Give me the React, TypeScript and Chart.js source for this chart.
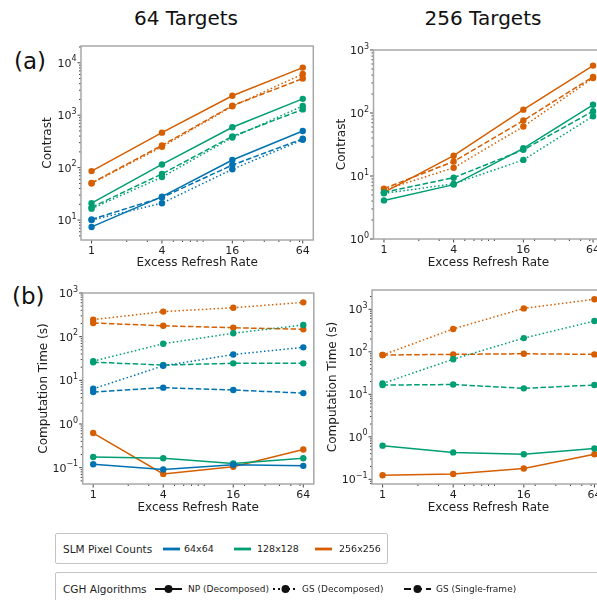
import React, { useEffect, useRef } from 'react';
import { Chart, registerables } from 'chart.js';

Chart.register(...registerables);

// ---------- data ----------
const excessRefreshRate = [1, 4, 16, 64];
const xTickValues = [1, 4, 16, 64];
const xMinorTickValues = [2, 3, 5, 6, 7, 8, 9, 20, 30, 40, 50, 60];

// (a) Contrast, 64 targets
const c64_64_np = [7.4, 28, 140, 500];
const c64_64_gsDec = [10, 21, 93, 340];
const c64_64_gsSf = [10.3, 27, 112, 355];
const c64_128_np = [21, 115, 590, 2050];
const c64_128_gsDec = [16.5, 66, 375, 1500];
const c64_128_gsSf = [17.5, 76, 395, 1290];
const c64_256_np = [86, 465, 2350, 8100];
const c64_256_gsDec = [50, 250, 1480, 6100];
const c64_256_gsSf = [51, 265, 1520, 5000];

// (a) Contrast, 256 targets
const c256_128_np = [4.1, 7.3, 27.5, 135];
const c256_128_gsDec = [5.3, 7.5, 18, 89];
const c256_128_gsSf = [5.5, 9.4, 26, 107];
const c256_256_np = [5.5, 21, 113, 565];
const c256_256_gsDec = [6.0, 13.5, 61, 360];
const c256_256_gsSf = [6.3, 17, 76, 375];

// (b) Computation time, 64 targets
const t64_64_np = [0.12, 0.091, 0.117, 0.11];
const t64_64_gsDec = [6.4, 21.5, 39, 57];
const t64_64_gsSf = [5.4, 6.8, 6.0, 5.1];
const t64_128_np = [0.176, 0.164, 0.125, 0.164];
const t64_128_gsDec = [27.5, 69, 120, 185];
const t64_128_gsSf = [26, 22.4, 24.5, 24.5];
const t64_256_np = [0.62, 0.072, 0.105, 0.26];
const t64_256_gsDec = [245, 375, 460, 610];
const t64_256_gsSf = [205, 178, 160, 148];

// (b) Computation time, 256 targets
const t256_128_np = [0.62, 0.43, 0.39, 0.53];
const t256_128_gsDec = [18, 67, 210, 530];
const t256_128_gsSf = [16.5, 17, 13.8, 16.5];
const t256_256_np = [0.125, 0.133, 0.18, 0.39];
const t256_256_gsDec = [84, 345, 1050, 1720];
const t256_256_gsSf = [84, 87, 90, 87];

const contrastTicks64 = [10, 100, 1000, 10000];
const contrastTicks256 = [1, 10, 100, 1000];
const timeTicks = [0.1, 1, 10, 100, 1000];

const resolutions = ['64x64', '128x128', '256x256'];
const algorithms = ['NP (Decomposed)', 'GS (Decomposed)', 'GS (Single-frame)'];

// ---------- styles ----------
const COLORS: Record<string, string> = {
  '64x64': '#0072B2',
  '128x128': '#009E73',
  '256x256': '#D55E00',
};
const DASHES: Record<string, number[]> = {
  'NP (Decomposed)': [],
  'GS (Decomposed)': [1.5, 2.4],
  'GS (Single-frame)': [5.5, 2.4],
};
const FONT = "'DejaVu Sans', 'Liberation Sans', sans-serif";
const TEXT = '#1e1e1e';

type Series = { res: string; alg: string; values: number[] };

const panelA64: Series[] = [
  { res: '64x64', alg: algorithms[0], values: c64_64_np },
  { res: '64x64', alg: algorithms[1], values: c64_64_gsDec },
  { res: '64x64', alg: algorithms[2], values: c64_64_gsSf },
  { res: '128x128', alg: algorithms[0], values: c64_128_np },
  { res: '128x128', alg: algorithms[1], values: c64_128_gsDec },
  { res: '128x128', alg: algorithms[2], values: c64_128_gsSf },
  { res: '256x256', alg: algorithms[0], values: c64_256_np },
  { res: '256x256', alg: algorithms[1], values: c64_256_gsDec },
  { res: '256x256', alg: algorithms[2], values: c64_256_gsSf },
];
const panelA256: Series[] = [
  { res: '128x128', alg: algorithms[0], values: c256_128_np },
  { res: '128x128', alg: algorithms[1], values: c256_128_gsDec },
  { res: '128x128', alg: algorithms[2], values: c256_128_gsSf },
  { res: '256x256', alg: algorithms[0], values: c256_256_np },
  { res: '256x256', alg: algorithms[1], values: c256_256_gsDec },
  { res: '256x256', alg: algorithms[2], values: c256_256_gsSf },
];
const panelB64: Series[] = [
  { res: '64x64', alg: algorithms[0], values: t64_64_np },
  { res: '64x64', alg: algorithms[1], values: t64_64_gsDec },
  { res: '64x64', alg: algorithms[2], values: t64_64_gsSf },
  { res: '128x128', alg: algorithms[0], values: t64_128_np },
  { res: '128x128', alg: algorithms[1], values: t64_128_gsDec },
  { res: '128x128', alg: algorithms[2], values: t64_128_gsSf },
  { res: '256x256', alg: algorithms[0], values: t64_256_np },
  { res: '256x256', alg: algorithms[1], values: t64_256_gsDec },
  { res: '256x256', alg: algorithms[2], values: t64_256_gsSf },
];
const panelB256: Series[] = [
  { res: '128x128', alg: algorithms[0], values: t256_128_np },
  { res: '128x128', alg: algorithms[1], values: t256_128_gsDec },
  { res: '128x128', alg: algorithms[2], values: t256_128_gsSf },
  { res: '256x256', alg: algorithms[0], values: t256_256_np },
  { res: '256x256', alg: algorithms[1], values: t256_256_gsDec },
  { res: '256x256', alg: algorithms[2], values: t256_256_gsSf },
];

const framePlugin = {
  id: 'mplFrame',
  afterDraw(chart: any) {
    const { ctx, chartArea: a, scales } = chart;
    const x = scales.x;
    const y = scales.y;
    const yTickList: number[] = chart.options.plugins.mplFrame.yTicks;
    ctx.save();
    ctx.strokeStyle = '#444';
    ctx.lineWidth = 1;
    const xTick = (v: number, len: number) => {
      const px = x.getPixelForValue(v);
      if (px < a.left - 0.5 || px > a.right + 0.5) return;
      ctx.beginPath();
      ctx.moveTo(px, a.bottom);
      ctx.lineTo(px, a.bottom + len);
      ctx.stroke();
    };
    const yTick = (v: number, len: number) => {
      const py = y.getPixelForValue(v);
      if (py < a.top - 0.5 || py > a.bottom + 0.5) return;
      ctx.beginPath();
      ctx.moveTo(a.left, py);
      ctx.lineTo(a.left - len, py);
      ctx.stroke();
    };
    xTickValues.forEach((v) => xTick(v, 3.5));
    xMinorTickValues.forEach((v) => xTick(v, 2));
    const e0 = Math.floor(Math.log10(y.min));
    const e1 = Math.ceil(Math.log10(y.max));
    for (let e = e0; e <= e1; e++) {
      yTick(Math.pow(10, e), 3.5);
      for (let k = 2; k <= 9; k++) yTick(k * Math.pow(10, e), 2);
    }
    // y tick labels as 10 with raised exponent
    ctx.fillStyle = TEXT;
    ctx.textBaseline = 'middle';
    ctx.textAlign = 'left';
    const right = a.left - 4.5;
    yTickList.forEach((v) => {
      const py = y.getPixelForValue(v);
      if (py < a.top - 1 || py > a.bottom + 1) return;
      const exp = String(Math.round(Math.log10(v))).replace('-', '\u2212');
      ctx.font = `8px ${FONT}`;
      const ew = ctx.measureText(exp).width;
      ctx.font = `11px ${FONT}`;
      const bw = ctx.measureText('10').width;
      ctx.fillText('10', right - ew - bw, py + 1);
      ctx.font = `8px ${FONT}`;
      ctx.fillText(exp, right - ew, py - 3.5);
    });
    ctx.strokeStyle = '#a8a8a8';
    ctx.lineWidth = 1.5;
    ctx.strokeRect(a.left, a.top, a.right - a.left, a.bottom - a.top);
    ctx.restore();
  },
};

type Box = { left: number; top: number; w: number; h: number };
type Area = { l: number; t: number; r: number; b: number };

function LogPanel(props: {
  pos: Box; area: Area; yMin: number; yMax: number; yTicks: number[];
  series: Series[]; yTitle: string; yTitleX: number; xTitleY: number;
}) {
  const { pos, area, yMin, yMax, yTicks, series, yTitle, yTitleX, xTitleY } = props;
  const ref = useRef<HTMLCanvasElement | null>(null);
  useEffect(() => {
    const canvas = ref.current;
    if (!canvas) return;
    const tickFont = { family: FONT, size: 11 };
    const titleFont = { family: FONT, size: 12 };
    const chart = new Chart(canvas, {
      type: 'line',
      data: {
        datasets: series.map((s) => ({
          label: s.res + ' ' + s.alg,
          data: excessRefreshRate.map((x, i) => ({ x, y: s.values[i] })),
          borderColor: COLORS[s.res],
          backgroundColor: COLORS[s.res],
          pointBackgroundColor: COLORS[s.res],
          pointBorderColor: COLORS[s.res],
          borderWidth: 1.5,
          borderDash: DASHES[s.alg],
          pointRadius: 3.2,
          pointBorderWidth: 0,
          tension: 0,
          fill: false,
        })),
      },
      options: {
        animation: false,
        responsive: false,
        maintainAspectRatio: false,
        devicePixelRatio: 1,
        layout: {
          padding: { left: 0, top: area.t - pos.top, right: pos.left + pos.w - area.r, bottom: 0 },
        },
        plugins: { legend: { display: false }, tooltip: { enabled: false }, mplFrame: { yTicks } },
        scales: {
          x: {
            type: 'logarithmic',
            min: Math.pow(4, -0.15),
            max: Math.pow(4, 3.15),
            grid: { display: false, drawTicks: false, tickLength: 0 },
            border: { display: false },
            ticks: {
              autoSkip: false, maxRotation: 0, padding: 5, color: TEXT, font: tickFont,
              callback: (v: any) => String(v),
            },
            afterBuildTicks: (s: any) => { s.ticks = xTickValues.map((v) => ({ value: v })); },
            afterFit: (s: any) => {
              s.height = pos.top + pos.h - area.b;
              s.paddingLeft = 0; s.paddingRight = 0;
            },
            title: {
              display: true, text: 'Excess Refresh Rate', color: TEXT, font: titleFont,
              padding: { top: 0, bottom: pos.top + pos.h - xTitleY - 7.2 },
            },
          },
          y: {
            type: 'logarithmic',
            min: yMin,
            max: yMax,
            grid: { display: false, drawTicks: false, tickLength: 0 },
            border: { display: false },
            ticks: { display: false, autoSkip: false },
            afterBuildTicks: (s: any) => { s.ticks = yTicks.map((v) => ({ value: v })); },
            afterFit: (s: any) => {
              s.width = area.l - pos.left;
              s.paddingTop = 0; s.paddingBottom = 0;
            },
            title: {
              display: true, text: yTitle, color: TEXT, font: titleFont,
              padding: { top: yTitleX - pos.left - 7.2, bottom: 0 },
            },
          },
        },
      },
      plugins: [framePlugin],
    } as any);
    return () => chart.destroy();
  }, []);
  return (
    <canvas
      ref={ref}
      width={pos.w}
      height={pos.h}
      style={{ position: 'absolute', left: pos.left, top: pos.top, width: pos.w, height: pos.h }}
    />
  );
}

function LineGlyph(props: { color: string; dash: number[]; marker: boolean; width: number; thick: number }) {
  const { color, dash, marker, width, thick } = props;
  return (
    <svg width={width} height={12} style={{ display: 'block' }}>
      <line x1={0} y1={6} x2={width} y2={6} stroke={color} strokeWidth={thick}
        strokeDasharray={dash.length ? dash.join(' ') : undefined} />
      {marker ? <circle cx={width / 2} cy={6} r={4} fill={color} /> : null}
    </svg>
  );
}

function Abs(props: { left: number; top: number; h: number; children: any; size?: number }) {
  return (
    <div style={{
      position: 'absolute', left: props.left, top: props.top, height: props.h,
      display: 'flex', alignItems: 'center', whiteSpace: 'nowrap',
      fontSize: props.size || 9.5, color: TEXT, fontFamily: FONT,
    }}>{props.children}</div>
  );
}

export default function App() {
  return (
    <div style={{
      position: 'absolute', left: 0, top: 0, width: 597, height: 600, overflow: 'hidden',
      background: '#ffffff', fontFamily: FONT,
    }}>
      <div style={{ position: 'absolute', left: 86, top: 7, width: 200, textAlign: 'center', fontSize: 20, lineHeight: '22px', color: '#111' }}>64 Targets</div>
      <div style={{ position: 'absolute', left: 383, top: 7, width: 200, textAlign: 'center', fontSize: 20, lineHeight: '22px', color: '#111' }}>256 Targets</div>
      <div style={{ position: 'absolute', left: 14, top: 48, fontSize: 23, lineHeight: '26px', color: '#111' }}>(a)</div>
      <div style={{ position: 'absolute', left: 12, top: 283, fontSize: 23, lineHeight: '26px', color: '#111' }}>(b)</div>

      <LogPanel pos={{ left: 0, top: 30, w: 320, h: 250 }} area={{ l: 81, t: 46, r: 313.3, b: 240 }}
        yMin={Math.pow(10, 0.62)} yMax={Math.pow(10, 4.32)} yTicks={contrastTicks64}
        series={panelA64} yTitle="Contrast" yTitleX={48} xTitleY={263} />
      <LogPanel pos={{ left: 300, top: 30, w: 310, h: 250 }} area={{ l: 373.5, t: 50, r: 603.5, b: 239 }}
        yMin={1} yMax={1000} yTicks={contrastTicks256}
        series={panelA256} yTitle="Contrast" yTitleX={342} xTitleY={263} />
      <LogPanel pos={{ left: 0, top: 280, w: 320, h: 250 }} area={{ l: 82.7, t: 293, r: 313.8, b: 484 }}
        yMin={Math.pow(10, -1.374)} yMax={1000} yTicks={timeTicks}
        series={panelB64} yTitle="Computation Time (s)" yTitleX={43.5} xTitleY={508} />
      <LogPanel pos={{ left: 300, top: 280, w: 310, h: 250 }} area={{ l: 372, t: 290, r: 605, b: 484 }}
        yMin={Math.pow(10, -1.11)} yMax={Math.pow(10, 3.454)} yTicks={timeTicks}
        series={panelB256} yTitle="Computation Time (s)" yTitleX={332.7} xTitleY={508} />

      {/* Legend: SLM pixel counts */}
      <div style={{
        position: 'absolute', left: 55, top: 533, width: 333, height: 31, boxSizing: 'border-box',
        border: '1px solid #c4c4c4', borderRadius: 2, background: '#fff',
      }}>
        <Abs left={7} top={0} h={29} size={10.5}>SLM Pixel Counts</Abs>
        <Abs left={107} top={0} h={29}><LineGlyph color={COLORS[resolutions[0]]} dash={[]} marker={false} width={17} thick={2.8} /></Abs>
        <Abs left={128} top={0} h={29}>{resolutions[0]}</Abs>
        <Abs left={178} top={0} h={29}><LineGlyph color={COLORS[resolutions[1]]} dash={[]} marker={false} width={17} thick={2.8} /></Abs>
        <Abs left={201} top={0} h={29}>{resolutions[1]}</Abs>
        <Abs left={259} top={0} h={29}><LineGlyph color={COLORS[resolutions[2]]} dash={[]} marker={false} width={17} thick={2.8} /></Abs>
        <Abs left={283} top={0} h={29}>{resolutions[2]}</Abs>
      </div>

      {/* Legend: CGH algorithms */}
      <div style={{
        position: 'absolute', left: 55, top: 572, width: 570, height: 40, boxSizing: 'border-box',
        border: '1px solid #c4c4c4', borderRadius: 2, background: '#fff',
      }}>
        <Abs left={7} top={0} h={32} size={10.5}>CGH Algorithms</Abs>
        <Abs left={99} top={0} h={32}><LineGlyph color="#111" dash={DASHES[algorithms[0]]} marker={true} width={27} thick={2} /></Abs>
        <Abs left={132} top={0} h={32} size={9}>{algorithms[0]}</Abs>
        <Abs left={217} top={0} h={32}><LineGlyph color="#111" dash={[2, 3]} marker={true} width={25} thick={2} /></Abs>
        <Abs left={246} top={0} h={32} size={9}>{algorithms[1]}</Abs>
        <Abs left={348} top={0} h={32}><LineGlyph color="#111" dash={[7, 4]} marker={true} width={27} thick={2} /></Abs>
        <Abs left={380} top={0} h={32} size={9}>{algorithms[2]}</Abs>
      </div>
    </div>
  );
}
